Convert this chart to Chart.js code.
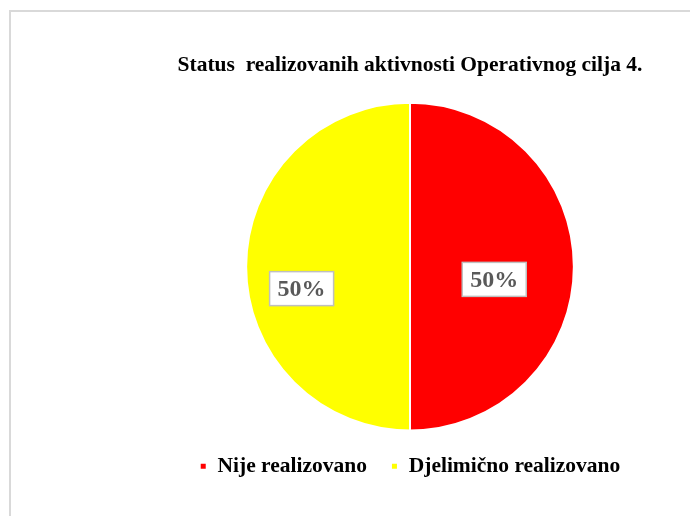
<!DOCTYPE html>
<html>
<head>
<meta charset="utf-8">
<script src="https://cdn.jsdelivr.net/npm/chart.js@4"></script>
<style>
  html, body { margin: 0; padding: 0; background: #fff; }
  #frame { position: absolute; left: 9px; top: 10px; width: 700px; height: 520px;
           border-top: 2px solid #d9d9d9; border-left: 2px solid #d9d9d9; }
  #wrap { position: absolute; left: 0; top: 0; width: 690px; height: 516px; }
</style>
</head>
<body>
<div id="frame"></div>
<div id="wrap"><canvas id="chart"></canvas></div>
<script>
const titleText = 'Status  realizovanih aktivnosti Operativnog cilja 4.';
const categories = ['Nije realizovano', 'Djelimično realizovano'];
const values = [50, 50];
const sliceColors = ['#ff0000', '#ffff00'];

// draws the percent labels in white boxes, like the Excel data labels
const boxLabels = {
    id: 'boxLabels',
    afterDatasetsDraw(chart, args, opts) {
        const ctx = chart.ctx;
        const meta = chart.getDatasetMeta(0);
        const data = chart.data.datasets[0].data;
        const total = data.reduce((a, b) => a + b, 0);
        ctx.save();
        ctx.font = opts.font;
        ctx.textAlign = 'center';
        ctx.textBaseline = 'middle';
        meta.data.forEach((arc, i) => {
            const p = arc.getProps(['x', 'y', 'startAngle', 'endAngle', 'outerRadius'], true);
            const pos = opts.place[i];
            const a = (p.startAngle + p.endAngle) / 2 + pos.shift;
            const r = p.outerRadius * pos.r;
            const x = p.x + Math.cos(a) * r;
            const y = p.y + Math.sin(a) * r;
            const txt = Math.round(data[i] / total * 100) + '%';
            const w = ctx.measureText(txt).width + 16;
            const h = 34;
            ctx.fillStyle = '#ffffff';
            ctx.fillRect(x - w / 2, y - h / 2, w, h);
            ctx.strokeStyle = '#bfbfbf';
            ctx.lineWidth = 1.5;
            ctx.strokeRect(x - w / 2, y - h / 2, w, h);
            ctx.fillStyle = '#595959';
            ctx.fillText(txt, x, y + 1);
        });
        ctx.restore();
    }
};

new Chart(document.getElementById('chart'), {
    type: 'pie',
    data: {
        labels: categories,
        datasets: [{
            data: values,
            backgroundColor: sliceColors,
            borderColor: '#ffffff',
            borderWidth: 2
        }]
    },
    plugins: [boxLabels],
    options: {
        responsive: true,
        maintainAspectRatio: false,
        animation: false,
        layout: { padding: { left: 130, right: 0, top: 0, bottom: 29 } },
        plugins: {
            title: {
                display: true,
                text: titleText,
                color: '#000',
                font: { family: '"Liberation Serif", "Times New Roman", serif', size: 21.5, weight: 'bold' },
                padding: { top: 53, bottom: 23 }
            },
            legend: {
                position: 'bottom',
                labels: {
                    color: '#000',
                    boxWidth: 7,
                    boxHeight: 7,
                    padding: 24,
                    font: { family: '"Liberation Serif", "Times New Roman", serif', size: 21.5, weight: 'bold' }
                }
            },
            tooltip: { enabled: false },
            boxLabels: {
                font: 'bold 24px "Liberation Serif", "Times New Roman", serif',
                place: [{ r: 0.52, shift: 0.15 }, { r: 0.675, shift: -0.2 }]
            }
        }
    }
});
</script>
</body>
</html>
